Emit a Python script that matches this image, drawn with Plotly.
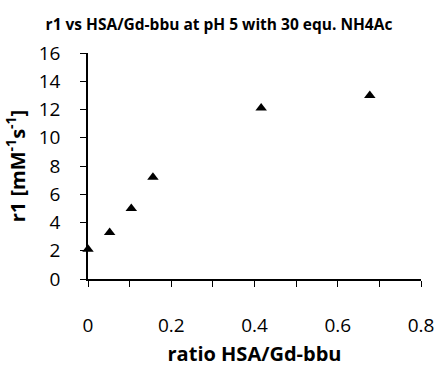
import plotly.graph_objects as go

# HSA / Gd-bbu ratio and measured relaxivity r1
ratio = [0.0, 0.052, 0.104, 0.156, 0.416, 0.677]
r1 = [2.1, 3.3, 5.0, 7.2, 12.1, 13.0]

x_ticks = [0, 0.2, 0.4, 0.6, 0.8]
x_tick_text = ["0", "0.2", "0.4", "0.6", "0.8"]
y_ticks = [0, 2, 4, 6, 8, 10, 12, 14, 16]

FONT = "Open Sans"

fig = go.Figure(
    go.Scatter(
        x=ratio,
        y=r1,
        mode="markers",
        marker=dict(symbol="triangle-up", size=10, color="black"),
        cliponaxis=False,
        showlegend=False,
    )
)

fig.update_layout(
    width=438,
    height=367,
    margin=dict(l=88, r=17, t=53, b=88, autoexpand=False),
    paper_bgcolor="white",
    plot_bgcolor="white",
    font=dict(family=FONT, color="black"),
    title=dict(
        text="<b>r1 vs HSA/Gd-bbu at pH 5 with 30 equ. NH4Ac</b>",
        x=0.5,
        xanchor="center",
        y=1 - 25 / 367,
        yanchor="middle",
        font=dict(family=FONT, size=15.5, color="black"),
    ),
)

fig.update_xaxes(
    range=[0, 0.8],
    tickvals=x_ticks,
    ticktext=x_tick_text,
    ticks="outside",
    ticklen=6,
    tickwidth=1.3,
    tickcolor="black",
    minor=dict(dtick=0.1, tick0=0, ticks="outside", ticklen=6, tickwidth=1.3, tickcolor="black"),
    ticklabelstandoff=22,
    tickfont=dict(family=FONT, size=19),
    showline=True,
    linecolor="black",
    linewidth=1.5,
    showgrid=False,
    zeroline=False,
    automargin=False,
    title=dict(text="<b>ratio HSA/Gd-bbu</b>", font=dict(family=FONT, size=20), standoff=15),
)

fig.update_yaxes(
    range=[0, 16],
    tickvals=y_ticks,
    ticks="outside",
    ticklen=6,
    tickwidth=1.3,
    tickcolor="black",
    ticklabelstandoff=16,
    tickfont=dict(family=FONT, size=19),
    showline=True,
    linecolor="black",
    linewidth=1.5,
    showgrid=False,
    zeroline=False,
    automargin=False,
    title=dict(text="<b>r1 [mM<sup>-1</sup>s<sup>-1</sup>]</b>", font=dict(family=FONT, size=20), standoff=8),
)

fig.write_html("out.html")
